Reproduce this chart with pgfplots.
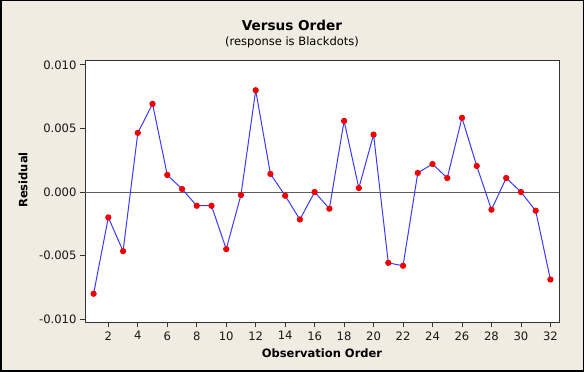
\documentclass[border=0pt]{standalone}
\usepackage{pgfplots}
\pgfplotsset{compat=1.18}
\usepackage{fontspec}
\setmainfont{DejaVu Sans}
\definecolor{bgbeige}{HTML}{F0ECE2}
\definecolor{lineblue}{HTML}{3A3AFF}
\definecolor{dotred}{HTML}{F00000}
\definecolor{framegray}{HTML}{333333}
\begin{document}
\begin{tikzpicture}[x=1pt,y=1pt]
\fill[bgbeige] (0,0) rectangle (584,372);
\draw[black,line width=1.5pt] (0.75,0.75) rectangle (583.25,371.25);
\begin{axis}[
  at={(85pt,49pt)}, anchor=south west,
  scale only axis, width=474pt, height=262pt,
  xmin=0.416, xmax=32.584,
  ymin=-0.0103, ymax=0.0103,
  axis background/.style={fill=white},
  axis line style={framegray,line width=1pt},
  xtick={2,4,...,32},
  ytick={-0.01,-0.005,0,0.005,0.01},
  yticklabels={-0.010,-0.005,0.000,0.005,0.010},
  scaled y ticks=false,
  /pgf/number format/assume math mode=true,
  tick align=outside, xtick pos=left, ytick pos=left,
  major tick length=4.5pt,
  tick style={framegray,line width=0.8pt},
  ticklabel style={font=\fontsize{11.6}{13}\selectfont, text=black!90},
  xticklabel style={yshift=-0.5pt},
  yticklabel style={xshift=-0.5pt},
  clip=false,
]
\addplot[framegray!80,line width=0.8pt,forget plot] coordinates {(0.416,0) (32.584,0)};
\addplot[lineblue,line width=1pt,mark=*,mark size=2.6pt,
  mark options={draw=dotred,fill=dotred}] coordinates {
(1,-0.00800) (2,-0.00200) (3,-0.00465) (4,0.00465) (5,0.00693)
(6,0.00134) (7,0.00024) (8,-0.00108) (9,-0.00108) (10,-0.00449)
(11,-0.00024) (12,0.00800) (13,0.00142) (14,-0.00029) (15,-0.00216)
(16,0.00000) (17,-0.00131) (18,0.00559) (19,0.00031) (20,0.00451)
(21,-0.00557) (22,-0.00580) (23,0.00150) (24,0.00220) (25,0.00110)
(26,0.00583) (27,0.00205) (28,-0.00139) (29,0.00110) (30,0.00000)
(31,-0.00147) (32,-0.00688)
};
\end{axis}
\node[anchor=base,font=\fontsize{13.6}{16}\selectfont\bfseries] at (292,341.3) {Versus Order};
\node[anchor=base,font=\fontsize{11.5}{14}\selectfont] at (292,326.7) {(response is Blackdots)};
\node[anchor=base,font=\fontsize{11.5}{14}\selectfont\bfseries] at (322,14.7) {Observation Order};
\node[anchor=base,rotate=90,font=\fontsize{11.5}{14}\selectfont\bfseries] at (27.3,192) {Residual};
\end{tikzpicture}
\end{document}
